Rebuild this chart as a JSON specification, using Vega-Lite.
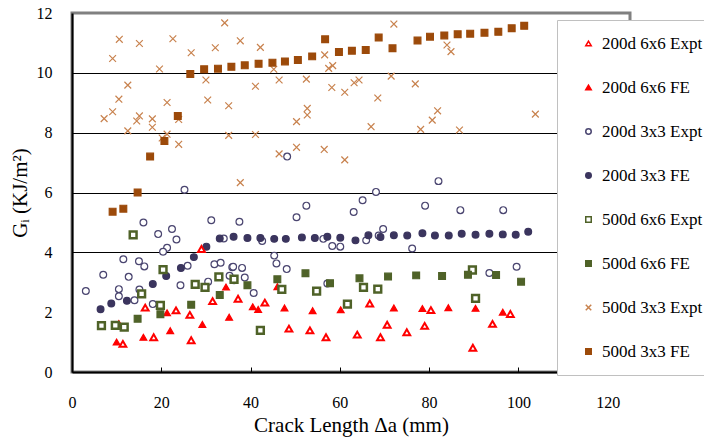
{
"$schema": "https://vega.github.io/schema/vega-lite/v6.json",
"width": 558, "height": 359,
"autosize": {"type": "none"},
"padding": {"left": 72, "top": 13, "right": 74, "bottom": 67},
"background": "white",
"config": {
  "view": {"stroke": "#808080", "strokeWidth": 3},
  "font": "Liberation Serif",
  "axis": {"labelFont": "Liberation Serif", "titleFont": "Liberation Serif", "labelColor": "black", "titleColor": "black", "titleFontWeight": "normal"},
  "legend": {"labelFont": "Liberation Serif"}
},
"data": {"values": [
{"series":"200d 3x3 Expt","x":25.2,"y":6.09},{"series":"200d 3x3 Expt","x":16.0,"y":5.0},{"series":"200d 3x3 Expt","x":31.2,"y":5.07},{"series":"200d 3x3 Expt","x":19.3,"y":4.61},{"series":"200d 3x3 Expt","x":22.4,"y":4.78},{"series":"200d 3x3 Expt","x":23.4,"y":4.43},{"series":"200d 3x3 Expt","x":21.3,"y":4.15},{"series":"200d 3x3 Expt","x":20.4,"y":4.02},{"series":"200d 3x3 Expt","x":11.5,"y":3.77},{"series":"200d 3x3 Expt","x":15.0,"y":3.7},{"series":"200d 3x3 Expt","x":16.2,"y":3.53},{"series":"200d 3x3 Expt","x":25.9,"y":3.55},{"series":"200d 3x3 Expt","x":31.9,"y":3.6},{"series":"200d 3x3 Expt","x":33.3,"y":3.65},{"series":"200d 3x3 Expt","x":35.9,"y":3.5},{"series":"200d 3x3 Expt","x":7.0,"y":3.25},{"series":"200d 3x3 Expt","x":12.7,"y":3.18},{"series":"200d 3x3 Expt","x":3.1,"y":2.71},{"series":"200d 3x3 Expt","x":10.5,"y":2.77},{"series":"200d 3x3 Expt","x":10.5,"y":2.53},{"series":"200d 3x3 Expt","x":15.1,"y":2.76},{"series":"200d 3x3 Expt","x":14.0,"y":2.4},{"series":"200d 3x3 Expt","x":24.3,"y":2.9},{"series":"200d 3x3 Expt","x":30.5,"y":3.02},{"series":"200d 3x3 Expt","x":35.3,"y":3.22},{"series":"200d 3x3 Expt","x":36.3,"y":3.07},{"series":"200d 3x3 Expt","x":18.1,"y":2.27},{"series":"200d 3x3 Expt","x":34.0,"y":4.46},{"series":"200d 3x3 Expt","x":68.1,"y":6.02},{"series":"200d 3x3 Expt","x":52.5,"y":5.56},{"series":"200d 3x3 Expt","x":65.1,"y":5.74},{"series":"200d 3x3 Expt","x":63.1,"y":5.35},{"series":"200d 3x3 Expt","x":37.5,"y":5.02},{"series":"200d 3x3 Expt","x":50.3,"y":5.17},{"series":"200d 3x3 Expt","x":42.6,"y":4.38},{"series":"200d 3x3 Expt","x":56.3,"y":4.45},{"series":"200d 3x3 Expt","x":58.3,"y":4.21},{"series":"200d 3x3 Expt","x":60.1,"y":4.19},{"series":"200d 3x3 Expt","x":65.9,"y":4.4},{"series":"200d 3x3 Expt","x":69.7,"y":4.78},{"series":"200d 3x3 Expt","x":68.7,"y":4.56},{"series":"200d 3x3 Expt","x":45.3,"y":3.89},{"series":"200d 3x3 Expt","x":45.8,"y":3.63},{"series":"200d 3x3 Expt","x":48.1,"y":3.44},{"series":"200d 3x3 Expt","x":36.1,"y":3.52},{"series":"200d 3x3 Expt","x":38.1,"y":3.48},{"series":"200d 3x3 Expt","x":38.7,"y":3.16},{"series":"200d 3x3 Expt","x":40.7,"y":2.64},{"series":"200d 3x3 Expt","x":57.2,"y":2.96},{"series":"200d 3x3 Expt","x":79.1,"y":5.56},{"series":"200d 3x3 Expt","x":87.0,"y":5.41},{"series":"200d 3x3 Expt","x":96.6,"y":5.41},{"series":"200d 3x3 Expt","x":76.2,"y":4.13},{"series":"200d 3x3 Expt","x":93.5,"y":3.31},{"series":"200d 3x3 Expt","x":99.6,"y":3.52},{"series":"200d 3x3 Expt","x":48.2,"y":7.2},{"series":"200d 3x3 Expt","x":82.1,"y":6.38},
{"series":"500d 3x3 Expt","x":34.2,"y":11.67},{"series":"500d 3x3 Expt","x":10.6,"y":11.12},{"series":"500d 3x3 Expt","x":15.1,"y":10.98},{"series":"500d 3x3 Expt","x":22.6,"y":11.14},{"series":"500d 3x3 Expt","x":32.1,"y":10.84},{"series":"500d 3x3 Expt","x":26.7,"y":10.67},{"series":"500d 3x3 Expt","x":9.1,"y":10.48},{"series":"500d 3x3 Expt","x":19.6,"y":10.13},{"series":"500d 3x3 Expt","x":30.0,"y":9.76},{"series":"500d 3x3 Expt","x":12.5,"y":9.59},{"series":"500d 3x3 Expt","x":10.5,"y":9.12},{"series":"500d 3x3 Expt","x":21.3,"y":9.01},{"series":"500d 3x3 Expt","x":30.4,"y":9.09},{"series":"500d 3x3 Expt","x":35.1,"y":8.9},{"series":"500d 3x3 Expt","x":9.1,"y":8.7},{"series":"500d 3x3 Expt","x":7.2,"y":8.47},{"series":"500d 3x3 Expt","x":15.1,"y":8.56},{"series":"500d 3x3 Expt","x":14.5,"y":8.39},{"series":"500d 3x3 Expt","x":18.0,"y":8.46},{"series":"500d 3x3 Expt","x":18.0,"y":8.18},{"series":"500d 3x3 Expt","x":23.9,"y":8.44},{"series":"500d 3x3 Expt","x":12.5,"y":8.06},{"series":"500d 3x3 Expt","x":21.3,"y":7.95},{"series":"500d 3x3 Expt","x":20.2,"y":7.82},{"series":"500d 3x3 Expt","x":23.9,"y":7.61},{"series":"500d 3x3 Expt","x":35.1,"y":7.91},{"series":"500d 3x3 Expt","x":37.7,"y":11.07},{"series":"500d 3x3 Expt","x":42.2,"y":10.85},{"series":"500d 3x3 Expt","x":72.1,"y":11.63},{"series":"500d 3x3 Expt","x":56.6,"y":10.6},{"series":"500d 3x3 Expt","x":45.2,"y":10.12},{"series":"500d 3x3 Expt","x":57.5,"y":10.15},{"series":"500d 3x3 Expt","x":58.4,"y":10.24},{"series":"500d 3x3 Expt","x":46.4,"y":9.76},{"series":"500d 3x3 Expt","x":52.5,"y":9.79},{"series":"500d 3x3 Expt","x":41.1,"y":9.55},{"series":"500d 3x3 Expt","x":58.2,"y":9.51},{"series":"500d 3x3 Expt","x":61.1,"y":9.35},{"series":"500d 3x3 Expt","x":63.2,"y":9.67},{"series":"500d 3x3 Expt","x":64.3,"y":9.76},{"series":"500d 3x3 Expt","x":68.5,"y":9.16},{"series":"500d 3x3 Expt","x":71.5,"y":9.89},{"series":"500d 3x3 Expt","x":52.7,"y":8.81},{"series":"500d 3x3 Expt","x":52.7,"y":8.59},{"series":"500d 3x3 Expt","x":50.3,"y":8.37},{"series":"500d 3x3 Expt","x":67.0,"y":8.2},{"series":"500d 3x3 Expt","x":41.1,"y":7.94},{"series":"500d 3x3 Expt","x":50.3,"y":7.51},{"series":"500d 3x3 Expt","x":46.4,"y":7.29},{"series":"500d 3x3 Expt","x":56.5,"y":7.44},{"series":"500d 3x3 Expt","x":61.1,"y":7.09},{"series":"500d 3x3 Expt","x":37.7,"y":6.33},{"series":"500d 3x3 Expt","x":84.0,"y":10.93},{"series":"500d 3x3 Expt","x":84.9,"y":10.71},{"series":"500d 3x3 Expt","x":76.9,"y":9.63},{"series":"500d 3x3 Expt","x":81.9,"y":8.73},{"series":"500d 3x3 Expt","x":80.7,"y":8.42},{"series":"500d 3x3 Expt","x":103.8,"y":8.62},{"series":"500d 3x3 Expt","x":78.1,"y":8.11},{"series":"500d 3x3 Expt","x":86.8,"y":8.09},
{"series":"200d 3x3 FE","x":6.4,"y":2.1},{"series":"200d 3x3 FE","x":8.8,"y":2.29},{"series":"200d 3x3 FE","x":12.3,"y":2.38},{"series":"200d 3x3 FE","x":18.1,"y":2.94},{"series":"200d 3x3 FE","x":21.1,"y":3.21},{"series":"200d 3x3 FE","x":24.4,"y":3.48},{"series":"200d 3x3 FE","x":27.3,"y":3.84},{"series":"200d 3x3 FE","x":30.1,"y":4.19},{"series":"200d 3x3 FE","x":33.1,"y":4.46},{"series":"200d 3x3 FE","x":36.2,"y":4.52},{"series":"200d 3x3 FE","x":39.3,"y":4.48},{"series":"200d 3x3 FE","x":42.2,"y":4.48},{"series":"200d 3x3 FE","x":45.3,"y":4.45},{"series":"200d 3x3 FE","x":47.9,"y":4.45},{"series":"200d 3x3 FE","x":51.5,"y":4.5},{"series":"200d 3x3 FE","x":54.4,"y":4.48},{"series":"200d 3x3 FE","x":57.2,"y":4.52},{"series":"200d 3x3 FE","x":60.1,"y":4.49},{"series":"200d 3x3 FE","x":63.5,"y":4.4},{"series":"200d 3x3 FE","x":66.4,"y":4.57},{"series":"200d 3x3 FE","x":69.1,"y":4.51},{"series":"200d 3x3 FE","x":72.1,"y":4.57},{"series":"200d 3x3 FE","x":75.1,"y":4.56},{"series":"200d 3x3 FE","x":78.5,"y":4.64},{"series":"200d 3x3 FE","x":81.3,"y":4.56},{"series":"200d 3x3 FE","x":84.4,"y":4.56},{"series":"200d 3x3 FE","x":87.3,"y":4.62},{"series":"200d 3x3 FE","x":90.4,"y":4.59},{"series":"200d 3x3 FE","x":93.5,"y":4.62},{"series":"200d 3x3 FE","x":96.5,"y":4.6},{"series":"200d 3x3 FE","x":99.4,"y":4.59},{"series":"200d 3x3 FE","x":102.2,"y":4.69},
{"series":"200d 6x6 Expt","x":29.0,"y":4.11},{"series":"200d 6x6 Expt","x":16.4,"y":2.15},{"series":"200d 6x6 Expt","x":23.3,"y":2.06},{"series":"200d 6x6 Expt","x":26.4,"y":1.91},{"series":"200d 6x6 Expt","x":31.5,"y":2.37},{"series":"200d 6x6 Expt","x":18.3,"y":1.16},{"series":"200d 6x6 Expt","x":26.7,"y":1.06},{"series":"200d 6x6 Expt","x":11.4,"y":0.94},{"series":"200d 6x6 Expt","x":37.2,"y":2.45},{"series":"200d 6x6 Expt","x":43.2,"y":2.32},{"series":"200d 6x6 Expt","x":48.6,"y":1.45},{"series":"200d 6x6 Expt","x":53.3,"y":1.39},{"series":"200d 6x6 Expt","x":56.9,"y":1.16},{"series":"200d 6x6 Expt","x":63.9,"y":1.25},{"series":"200d 6x6 Expt","x":69.1,"y":1.16},{"series":"200d 6x6 Expt","x":70.6,"y":1.58},{"series":"200d 6x6 Expt","x":66.7,"y":2.29},{"series":"200d 6x6 Expt","x":75.0,"y":1.33},{"series":"200d 6x6 Expt","x":79.0,"y":1.54},{"series":"200d 6x6 Expt","x":89.8,"y":0.81},{"series":"200d 6x6 Expt","x":94.2,"y":1.61},{"series":"200d 6x6 Expt","x":80.4,"y":2.07},{"series":"200d 6x6 Expt","x":98.2,"y":1.94},
{"series":"200d 6x6 FE","x":10.0,"y":1.0},{"series":"200d 6x6 FE","x":16.0,"y":1.16},{"series":"200d 6x6 FE","x":22.0,"y":1.38},{"series":"200d 6x6 FE","x":29.2,"y":1.59},{"series":"200d 6x6 FE","x":35.2,"y":1.83},{"series":"200d 6x6 FE","x":34.5,"y":2.84},{"series":"200d 6x6 FE","x":40.5,"y":2.18},{"series":"200d 6x6 FE","x":41.7,"y":2.09},{"series":"200d 6x6 FE","x":46.0,"y":2.85},{"series":"200d 6x6 FE","x":47.6,"y":2.14},{"series":"200d 6x6 FE","x":53.9,"y":2.05},{"series":"200d 6x6 FE","x":60.2,"y":2.08},{"series":"200d 6x6 FE","x":72.1,"y":2.14},{"series":"200d 6x6 FE","x":78.5,"y":2.12},{"series":"200d 6x6 FE","x":84.3,"y":2.15},{"series":"200d 6x6 FE","x":90.4,"y":2.13},{"series":"200d 6x6 FE","x":96.5,"y":2.0},{"series":"200d 6x6 FE","x":10.5,"y":1.62},{"series":"200d 6x6 FE","x":21.3,"y":1.98},
{"series":"500d 6x6 Expt","x":13.7,"y":4.58},{"series":"500d 6x6 Expt","x":20.4,"y":3.42},{"series":"500d 6x6 Expt","x":27.6,"y":2.93},{"series":"500d 6x6 Expt","x":29.8,"y":2.83},{"series":"500d 6x6 Expt","x":32.9,"y":3.18},{"series":"500d 6x6 Expt","x":15.6,"y":2.61},{"series":"500d 6x6 Expt","x":19.8,"y":2.23},{"series":"500d 6x6 Expt","x":6.6,"y":1.55},{"series":"500d 6x6 Expt","x":9.7,"y":1.56},{"series":"500d 6x6 Expt","x":11.7,"y":1.5},{"series":"500d 6x6 Expt","x":36.3,"y":3.1},{"series":"500d 6x6 Expt","x":47.0,"y":2.76},{"series":"500d 6x6 Expt","x":54.8,"y":2.7},{"series":"500d 6x6 Expt","x":61.7,"y":2.27},{"series":"500d 6x6 Expt","x":65.3,"y":2.83},{"series":"500d 6x6 Expt","x":68.5,"y":2.77},{"series":"500d 6x6 Expt","x":42.2,"y":1.39},{"series":"500d 6x6 Expt","x":89.7,"y":3.41},{"series":"500d 6x6 Expt","x":90.4,"y":2.46},
{"series":"500d 6x6 FE","x":14.7,"y":1.78},{"series":"500d 6x6 FE","x":19.8,"y":1.93},{"series":"500d 6x6 FE","x":26.7,"y":2.25},{"series":"500d 6x6 FE","x":33.1,"y":2.57},{"series":"500d 6x6 FE","x":39.3,"y":2.9},{"series":"500d 6x6 FE","x":46.0,"y":3.1},{"series":"500d 6x6 FE","x":52.3,"y":3.3},{"series":"500d 6x6 FE","x":57.8,"y":2.97},{"series":"500d 6x6 FE","x":64.4,"y":3.13},{"series":"500d 6x6 FE","x":70.8,"y":3.19},{"series":"500d 6x6 FE","x":77.1,"y":3.23},{"series":"500d 6x6 FE","x":82.9,"y":3.21},{"series":"500d 6x6 FE","x":88.7,"y":3.25},{"series":"500d 6x6 FE","x":95.0,"y":3.24},{"series":"500d 6x6 FE","x":100.6,"y":3.02},
{"series":"500d 3x3 FE","x":9.1,"y":5.36},{"series":"500d 3x3 FE","x":11.5,"y":5.46},{"series":"500d 3x3 FE","x":14.7,"y":6.0},{"series":"500d 3x3 FE","x":17.5,"y":7.2},{"series":"500d 3x3 FE","x":20.7,"y":7.72},{"series":"500d 3x3 FE","x":23.7,"y":8.56},{"series":"500d 3x3 FE","x":26.5,"y":9.96},{"series":"500d 3x3 FE","x":29.6,"y":10.12},{"series":"500d 3x3 FE","x":32.7,"y":10.14},{"series":"500d 3x3 FE","x":35.7,"y":10.2},{"series":"500d 3x3 FE","x":38.7,"y":10.25},{"series":"500d 3x3 FE","x":41.8,"y":10.3},{"series":"500d 3x3 FE","x":44.9,"y":10.34},{"series":"500d 3x3 FE","x":47.7,"y":10.38},{"series":"500d 3x3 FE","x":50.6,"y":10.43},{"series":"500d 3x3 FE","x":53.8,"y":10.55},{"series":"500d 3x3 FE","x":56.7,"y":11.12},{"series":"500d 3x3 FE","x":59.8,"y":10.7},{"series":"500d 3x3 FE","x":62.7,"y":10.74},{"series":"500d 3x3 FE","x":65.8,"y":10.76},{"series":"500d 3x3 FE","x":68.7,"y":11.18},{"series":"500d 3x3 FE","x":71.8,"y":10.82},{"series":"500d 3x3 FE","x":77.4,"y":11.08},{"series":"500d 3x3 FE","x":80.2,"y":11.21},{"series":"500d 3x3 FE","x":83.4,"y":11.25},{"series":"500d 3x3 FE","x":86.4,"y":11.29},{"series":"500d 3x3 FE","x":89.2,"y":11.31},{"series":"500d 3x3 FE","x":92.4,"y":11.34},{"series":"500d 3x3 FE","x":95.5,"y":11.37},{"series":"500d 3x3 FE","x":98.5,"y":11.49},{"series":"500d 3x3 FE","x":101.3,"y":11.57}
]},
"mark": {"type": "point", "opacity": 1, "size": 46},
"encoding": {
  "x": {"field": "x", "type": "quantitative", "scale": {"domain": [0, 125], "nice": false, "zero": false},
        "axis": {"values": [0, 20, 40, 60, 80, 100, 120], "title": "Crack Length Δa (mm)", "titleFontSize": 21, "titlePadding": 4,
                 "labelFontSize": 16, "labelPadding": 27, "tickSize": -5, "tickColor": "black", "tickWidth": 1,
                 "domainColor": "black", "domainWidth": 2, "grid": false, "labelFlush": false}},
  "y": {"field": "y", "type": "quantitative", "scale": {"domain": [0, 12], "nice": false},
        "axis": {"values": [0, 2, 4, 6, 8, 10, 12], "title": "Gᵢ (KJ/m²)", "titleFontSize": 21, "titlePadding": 6,
                 "labelFontSize": 16, "labelPadding": 20, "ticks": false,
                 "domainColor": "black", "domainWidth": 2, "grid": true, "gridColor": "black", "gridWidth": 1,
                 "gridOpacity": {"condition": {"test": "datum.value >= 4 && datum.value <= 10", "value": 1}, "value": 0}}},
  "shape": {"field": "series", "type": "nominal",
            "scale": {"domain": ["200d 6x6 Expt","200d 6x6 FE","200d 3x3 Expt","200d 3x3 FE","500d 6x6 Expt","500d 6x6 FE","500d 3x3 Expt","500d 3x3 FE"],
                      "range": ["triangle-up","triangle-up","circle","circle","square","square","M-1,-1L1,1M1,-1L-1,1","square"]}},
  "fill": {"field": "series", "type": "nominal",
           "scale": {"domain": ["200d 6x6 Expt","200d 6x6 FE","200d 3x3 Expt","200d 3x3 FE","500d 6x6 Expt","500d 6x6 FE","500d 3x3 Expt","500d 3x3 FE"],
                     "range": ["white","#FF0000","white","#3B355E","white","#4F6228","transparent","#9C4A0A"]},
           "legend": {"orient": "none", "legendX": 485, "legendY": 7, "title": null, "padding": 15, "rowPadding": 26,
                      "strokeColor": "#C0C0C0", "fillColor": "white", "symbolSize": 30, "symbolStrokeWidth": 1.5,
                      "symbolOffset": 8,
                      "labelFont": "Liberation Serif", "labelFontSize": 17, "labelColor": "black", "labelOffset": 5,
                      "labelLimit": 300,
                      "labelExpr": "datum.label + '\u00a0\u00a0\u00a0\u00a0\u00a0\u00a0\u00a0\u00a0'"}},
  "stroke": {"field": "series", "type": "nominal",
             "scale": {"domain": ["200d 6x6 Expt","200d 6x6 FE","200d 3x3 Expt","200d 3x3 FE","500d 6x6 Expt","500d 6x6 FE","500d 3x3 Expt","500d 3x3 FE"],
                       "range": ["#FF0000","#FF0000","#4A4570","#3B355E","#4F6228","#4F6228","#C8824E","#9C4A0A"]}},
  "strokeWidth": {"condition": [
      {"test": "datum.series === '500d 6x6 Expt'", "value": 2.5},
      {"test": "datum.series === '200d 6x6 Expt'", "value": 2}
    ], "value": 1.2}
}
}
